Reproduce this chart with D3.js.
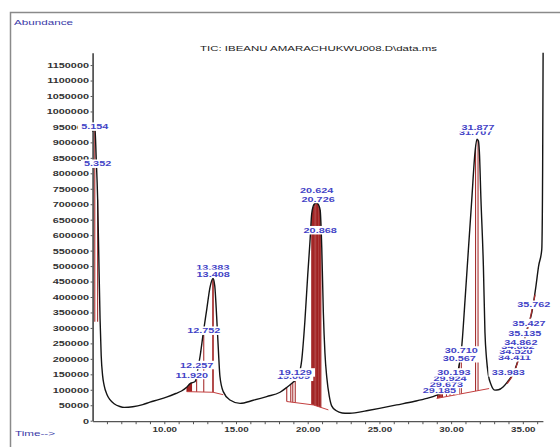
<!DOCTYPE html>
<html>
<head>
<meta charset="utf-8">
<script src="https://cdnjs.cloudflare.com/ajax/libs/d3/7.8.5/d3.min.js"></script>
<style>
  body { margin: 0; background: #fff; }
  svg { display: block; }
  text { font-family: "Liberation Sans", Arial, sans-serif; }
</style>
</head>
<body>
<div id="chart"></div>
<script>
// TIC trace (retention time in min, abundance)
const traceTime = [5.0, 5.154, 5.25, 5.35, 5.42, 5.52, 5.6, 5.7, 5.8, 6.0, 6.21, 6.5, 6.9, 7.2, 7.8, 8.5, 9.0, 9.6,
  10.2, 10.8, 11.2, 11.56, 11.8, 11.95, 12.15, 12.35, 12.5, 12.72, 12.96, 13.19, 13.40, 13.52, 13.65, 13.77, 13.88,
  14.11, 14.58, 15.28, 16.2, 17.14, 18.07, 18.6, 19.0, 19.35, 19.58, 19.8, 20.0, 20.16, 20.28, 20.45, 20.62, 20.73,
  20.87, 20.98, 21.09, 21.2, 21.33, 21.5, 21.67, 22.0, 22.4, 22.8, 23.5, 24.2, 25.0, 26.2, 27.4, 28.3, 29.0, 29.46,
  29.92, 30.2, 30.4, 30.6, 30.74, 30.97, 31.2, 31.44, 31.67, 31.8, 31.9, 31.97, 32.08, 32.25, 32.36, 32.47, 32.59,
  32.8, 33.06, 33.3, 33.64, 34.0, 34.34, 34.7, 35.03, 35.35, 35.62, 35.9, 36.1, 36.32, 36.38, 36.42];
const traceAbund = [935000, 955000, 850000, 720000, 560000, 330000, 210000, 145000, 115000, 85000, 68000, 55000,
  46000, 43000, 45000, 52000, 60000, 68000, 77000, 88000, 96000, 108000, 120000, 123000, 127000, 170000, 210000,
  285000, 360000, 432000, 460000, 435000, 337000, 229000, 143000, 94000, 67000, 56000, 66000, 78000, 92000, 110000,
  125000, 145000, 195000, 320000, 470000, 580000, 670000, 700000, 705000, 700000, 680000, 560000, 350000, 220000,
  140000, 80000, 48000, 32000, 25000, 24000, 27000, 33000, 40000, 51000, 62000, 72000, 83000, 94000, 110000, 125000,
  145000, 190000, 240000, 390000, 550000, 715000, 870000, 910000, 905000, 870000, 715000, 500000, 285000, 200000,
  150000, 115000, 99000, 100000, 110000, 130000, 153000, 200000, 250000, 305000, 348000, 430000, 500000, 553000,
  800000, 1250000];

// axis ticks
const yTickValues = [0, 50000, 100000, 150000, 200000, 250000, 300000, 350000, 400000, 450000, 500000, 550000,
  600000, 650000, 700000, 750000, 800000, 850000, 900000, 950000, 1000000, 1050000, 1100000, 1150000];
const xMinorTicks = [6, 7, 8, 9, 10, 11, 12, 13, 14, 15, 16, 17, 18, 19, 20, 21, 22, 23, 24, 25, 26, 27, 28, 29, 30,
  31, 32, 33, 34, 35, 36];
const xTickLabels = [10, 15, 20, 25, 30, 35];

// integration baselines (red), one run per group of peaks
const baseRunTime = [[5.1, 5.4], [11.56, 13.40, 14.11], [18.54, 20.39, 21.44], [28.99, 32.65],
  [33.9, 34.2, 34.52, 34.862, 35.135, 35.427, 35.762, 35.85]];
const baseRunAbund = [[320000, 320000], [94000, 92000, 84000], [62000, 51000, 35000], [72000, 104000],
  [120000, 139000, 172000, 220000, 263000, 312000, 384000, 408000]];
const baseRunShown = [false, true, true, true, true];

// drop lines (peak start / end marks)
const dropTime = [5.154, 5.352,
  11.58, 11.62, 11.66, 11.70, 11.74, 11.78, 11.82, 11.86, 11.90, 12.257, 12.752, 13.383, 13.408,
  18.54, 18.82, 18.96, 19.129, 20.28, 20.34, 20.40, 20.46, 20.52, 20.58, 20.624, 20.68, 20.726, 20.78, 20.83,
  20.868, 20.92,
  29.05, 29.10, 29.15, 29.185, 29.25, 29.32, 29.40, 29.673, 29.924, 30.193, 30.567, 30.710, 31.707, 31.877,
  33.983, 34.411, 34.520, 34.662, 34.862, 35.135, 35.427, 35.762];

// retention time labels and the abundance level each one sits at
const peakRT = [5.154, 5.352, 11.920, 12.257, 12.752, 13.383, 13.408, 19.009, 19.129, 20.624, 20.726, 20.868,
  29.185, 29.673, 29.924, 30.193, 30.567, 30.710, 31.707, 31.877, 33.983, 34.411, 34.520, 34.662, 34.862, 35.135,
  35.427, 35.762];
const peakLevel = [951000, 831000, 148000, 180000, 291000, 496000, 475000, 142000, 156000, 745000, 717000, 616000,
  99000, 119000, 137000, 156000, 202000, 227000, 934000, 949000, 156000, 205000, 224000, 242000, 253000, 283000,
  316000, 375000];

const W = 560, H = 447;
const FONT = '"Liberation Sans", Arial, sans-serif';
const labelBlue = "#4343c6";
const red = "#9e1c1c";

const svg = d3.select("#chart").append("svg")
  .attr("width", W).attr("height", H)
  .style("background-color", "white");

const xScale = d3.scaleLinear().domain([5, 36.4]).range([92.6, 542.9]);
const yScale = d3.scaleLinear().domain([0, 1190000]).range([420.7, 52.7]);
// piecewise lookup of the trace, used for drop line tops
const curveAt = d3.scaleLinear().domain(traceTime).range(traceAbund);

function baseAt(t) {
  for (let i = 0; i < baseRunTime.length; i++) {
    const ts = baseRunTime[i];
    if (t >= ts[0] - 1e-9 && t <= ts[ts.length - 1] + 1e-9) {
      return d3.scaleLinear().domain(ts).range(baseRunAbund[i])(t);
    }
  }
  return 0;
}

// outer frame
svg.append("path")
  .attr("d", "M10.5,447V12.5H560")
  .attr("fill", "none")
  .attr("stroke", "#8a8a8a")
  .attr("stroke-width", 1.5);

svg.append("text")
  .attr("x", 14).attr("y", 24.6)
  .attr("font-size", 7.5)
  .attr("textLength", 59).attr("lengthAdjust", "spacingAndGlyphs")
  .attr("fill", "#3a3aa8")
  .text("Abundance");

svg.append("text")
  .attr("x", 15).attr("y", 436)
  .attr("font-size", 7.5)
  .attr("textLength", 40).attr("lengthAdjust", "spacingAndGlyphs")
  .attr("fill", "#3a3aa8")
  .text("Time-->");

svg.append("text")
  .attr("x", 200).attr("y", 51)
  .attr("font-size", 7.5)
  .attr("textLength", 237).attr("lengthAdjust", "spacingAndGlyphs")
  .attr("fill", "#222")
  .text("TIC: IBEANU AMARACHUKWU008.D\\data.ms");

// y axis
let yAxis = d3.axisLeft(yScale)
  .tickValues(yTickValues)
  .tickSize(2)
  .tickSizeOuter(0)
  .tickFormat(d3.format("d"));
let gy = svg.append("g")
  .attr("transform", "translate(92.6,0)")
  .call(yAxis)
  .attr("font-family", FONT)
  .attr("font-size", 7.5)
  .attr("font-weight", "bold");
gy.select(".domain").attr("stroke", "#444").attr("stroke-width", 1.6);
gy.selectAll(".tick line").attr("stroke", "#555");
gy.selectAll(".tick text")
  .attr("x", 0)
  .attr("fill", "#333")
  .attr("transform", "translate(-3.6,0) scale(1.45,1)");

// x axis
let xAxis = d3.axisBottom(xScale)
  .tickValues(xMinorTicks)
  .tickSize(3)
  .tickSizeOuter(0)
  .tickFormat((d) => (xTickLabels.includes(d) ? d.toFixed(2) : ""));
let gx = svg.append("g")
  .attr("transform", "translate(0,421.2)")
  .call(xAxis)
  .attr("font-family", FONT)
  .attr("font-size", 7)
  .attr("font-weight", "bold");
gx.select(".domain").attr("stroke", "#555").attr("stroke-width", 1.3);
gx.selectAll(".tick line").attr("stroke", "#555");
gx.selectAll(".tick text")
  .attr("x", 0)
  .attr("fill", "#333")
  .attr("transform", "scale(1.4,1)");

// clip for the trace
svg.append("clipPath").attr("id", "plot-clip")
  .append("rect")
  .attr("x", 92).attr("y", 52.7)
  .attr("width", 455).attr("height", 370);

// red drop lines
svg.append("g")
  .selectAll("line")
  .data(dropTime)
  .enter()
  .append("line")
  .attr("x1", (d) => xScale(d))
  .attr("x2", (d) => xScale(d))
  .attr("y1", (d) => yScale(baseAt(d)))
  .attr("y2", (d) => yScale(curveAt(d)))
  .attr("stroke", red)
  .attr("stroke-width", 1);

// the trace
let traceLine = d3.line()
  .x((d) => xScale(d[0]))
  .y((d) => yScale(d[1]))
  .curve(d3.curveMonotoneX);
svg.append("path")
  .datum(d3.zip(traceTime, traceAbund))
  .attr("clip-path", "url(#plot-clip)")
  .attr("d", traceLine)
  .attr("fill", "none")
  .attr("stroke", "#141414")
  .attr("stroke-width", 1.4)
  .attr("stroke-linejoin", "round");

// red baselines
let baseLine = d3.line()
  .x((d) => xScale(d[0]))
  .y((d) => yScale(d[1]));
baseRunTime.forEach((ts, i) => {
  if (!baseRunShown[i]) return;
  svg.append("path")
    .datum(d3.zip(ts, baseRunAbund[i]))
    .attr("d", baseLine)
    .attr("fill", "none")
    .attr("stroke", i === 4 ? "#a83030" : "#c44040")
    .attr("stroke-width", i === 4 ? 1.3 : 1);
});

// retention time labels, white boxed, drawn in time order
let gLabels = svg.append("g")
  .attr("font-family", FONT)
  .attr("font-size", 7.5)
  .attr("font-weight", "bold");
peakRT.forEach((rt, i) => {
  let g = gLabels.append("g")
    .attr("transform", `translate(${xScale(rt)},${yScale(peakLevel[i])}) scale(1.45,1)`);
  let t = g.append("text")
    .attr("y", 2.7)
    .attr("text-anchor", "middle")
    .attr("fill", labelBlue)
    .text(rt.toFixed(3));
  let w = t.node().getComputedTextLength();
  g.insert("rect", "text")
    .attr("x", -w / 2 - 2.2)
    .attr("y", -4.25)
    .attr("width", w + 4.4)
    .attr("height", 8.5)
    .attr("fill", "white");
});
</script>
</body>
</html>
